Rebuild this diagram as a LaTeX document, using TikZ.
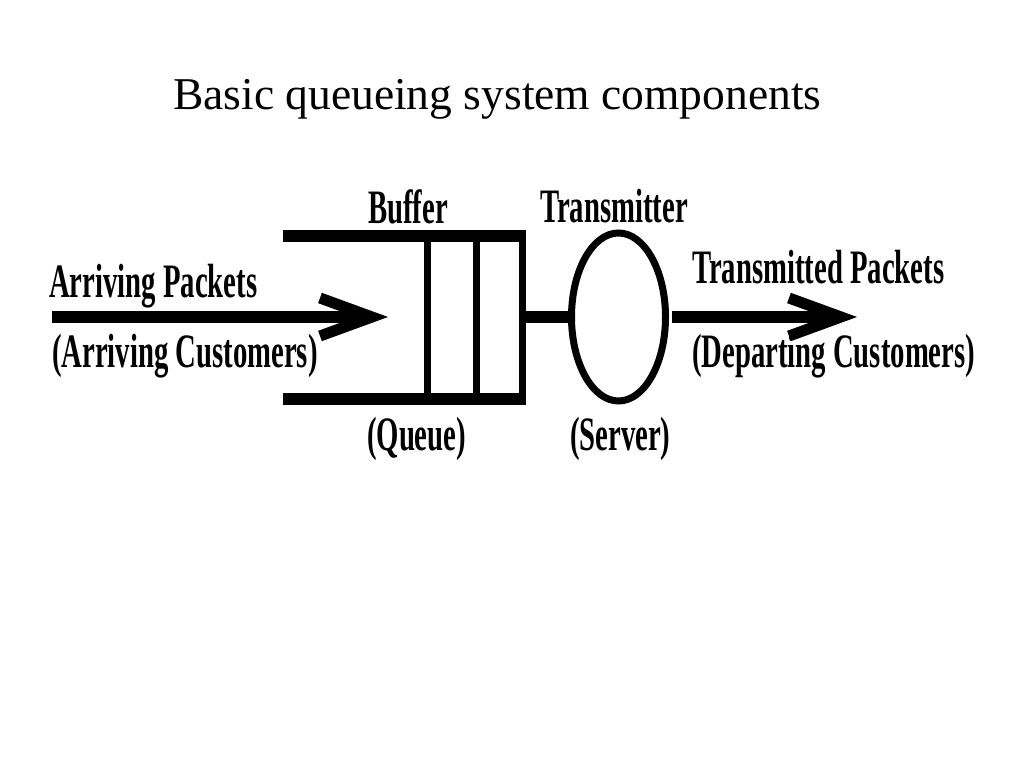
\documentclass[tikz,border=0pt]{standalone}
\usepackage{fontspec}
\setmainfont{Liberation Serif}
\usetikzlibrary{shapes.geometric}
\tikzset{
  lbl/.style={anchor=base west, inner sep=0pt, transform shape, xscale=0.598,
    font=\fontsize{48}{48}\selectfont\bfseries},
  wall/.style={line width=12pt},
  cell/.style={line width=7pt},
  myarrow/.style={line width=12pt},
  chevron/.style={line width=11pt, miter limit=10},
}

\begin{document}
\begin{tikzpicture}[x=1pt, y=1pt]
    \useasboundingbox (0,0) rectangle (1024,768);
    \node[anchor=base west, inner sep=0pt, font=\fontsize{45.5}{45.5}\selectfont](title) at (173,658){Basic queueing system components};
    % buffer
    \coordinate (topstart) at (283,532);
    \coordinate (topend) at (526,532);
    \coordinate (botstart) at (283,369);
    \coordinate (botend) at (526,369);
    \draw[wall](topstart)--(topend);
    \draw[wall](botstart)--(botend);
    \draw[cell](427,532)--(427,369);
    \draw[cell](476,532)--(476,369);
    \draw[cell](522.5,532)--(522.5,369);
    \coordinate (bufferout) at (523,451);
    % transmitter
    \node[ellipse, draw, line width=7pt, minimum width=94pt, minimum height=168pt, inner sep=0pt](server) at (618.5,451){};
    \draw[wall](bufferout)--(server.west);
    % arriving arrow
    \coordinate (arrivestart) at (52,451);
    \coordinate (arrivetip) at (372,451);
    \draw[myarrow](arrivestart)--(arrivetip);
    \draw[chevron](320,470)--(arrivetip)--(320,432);
    % departing arrow
    \coordinate (departstart) at (672,451);
    \coordinate (departtip) at (841,451);
    \draw[myarrow](departstart)--(departtip);
    \draw[chevron](789,470)--(departtip)--(789,432);
    % labels
    \node[lbl](buffer) at (368,544){Buffer};
    \node[lbl](transmitter) at (540,545){Transmitter};
    \node[lbl](arriving) at (49,470){Arriving Packets};
    \node[lbl](arrivingc) at (52,400){(Arriving Customers)};
    \node[lbl](queue) at (367,317){(Queue)};
    \node[lbl](serverlbl) at (570,317){(Server)};
    \node[lbl](transmitted) at (692,484){Transmitted Packets};
    \node[lbl](departing) at (692,400){(Departing Customers)};
\end{tikzpicture}
\end{document}
